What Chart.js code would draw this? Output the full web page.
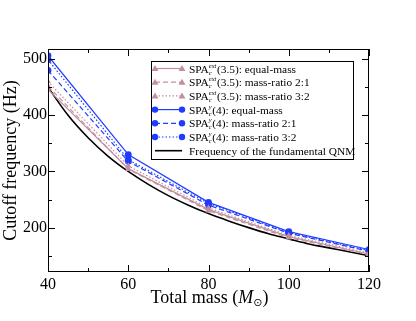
<!DOCTYPE html>
<html>
<head>
<meta charset="utf-8">
<script src="https://cdn.jsdelivr.net/npm/chart.js@4/dist/chart.umd.min.js"></script>
<style>
    html, body { margin: 0; padding: 0; background: #fff; }
    #wrap { width: 416px; height: 321px; }
</style>
</head>
<body>
<div id="wrap"><canvas id="grafico"></canvas></div>
<script>
// Datos
const masas = [40, 60, 80, 100, 120];
const spaExtIgual = [446, 305, 232, 184, 153];
const spaExt21 = [452, 304, 230, 182, 152];
const spaExt32 = [460, 310, 235, 186, 155];
const spaYIgual = [506, 330, 245, 193, 161];
const spaY21 = [480, 318, 240, 190, 158];
const spaY32 = [499, 321, 243, 191, 159];

const masasQNM = [40, 45, 50, 55, 60, 65, 70, 75, 80, 85, 90, 95, 100, 105, 110, 115, 120];
const frecQNM = [450, 400, 360, 327, 300, 277, 257, 240, 225, 212, 200, 189, 180, 171, 164, 157, 150];

const ticksX = [40, 60, 80, 100, 120];
const ticksY = [200, 300, 400, 500];

const ROSA = '#c28f9e';
const AZUL = '#1d3cff';
const SERIF = '"Liberation Serif", "DejaVu Serif", serif';

const puntos = (xs, ys) => xs.map((x, i) => ({ x: x, y: ys[i] }));

function serie(etiqueta, ys, color, estilo, dash) {
    return {
        label: etiqueta,
        data: puntos(masas, ys),
        borderColor: color,
        backgroundColor: color,
        borderWidth: 1.2,
        borderDash: dash,
        pointStyle: estilo,
        pointRadius: estilo === 'triangle' ? 3.5 : 3.4,
        pointBorderWidth: 0,
        tension: 0
    };
}

const datasets = [
    serie('SPA ext (3.5): equal-mass', spaExtIgual, ROSA, 'triangle', []),
    serie('SPA ext (3.5): mass-ratio 2:1', spaExt21, ROSA, 'triangle', [5, 3]),
    serie('SPA ext (3.5): mass-ratio 3:2', spaExt32, ROSA, 'triangle', [1.5, 2]),
    serie('SPA y (4): equal-mass', spaYIgual, AZUL, 'circle', []),
    serie('SPA y (4): mass-ratio 2:1', spaY21, AZUL, 'circle', [5, 3]),
    serie('SPA y (4): mass-ratio 3:2', spaY32, AZUL, 'circle', [1.5, 2]),
    {
        label: 'Frequency of the fundamental QNM',
        data: puntos(masasQNM, frecQNM),
        borderColor: '#000',
        borderWidth: 1.6,
        pointRadius: 0,
        tension: 0.3
    }
];

// Marco, marcas de ejes y título del eje x
const pluginEjes = {
    id: 'ejes',
    afterDraw(chart) {
        const ctx = chart.ctx;
        const a = chart.chartArea;
        const sx = chart.scales.x, sy = chart.scales.y;
        ctx.save();
        ctx.strokeStyle = '#000';
        ctx.lineWidth = 1;
        ctx.strokeRect(a.left + 0.5, a.top + 0.5, a.right - a.left - 1, a.bottom - a.top - 1);
        for (let v = 40; v <= 120; v += 10) {
            const px = Math.round(sx.getPixelForValue(v)) + 0.5;
            const largo = v % 20 === 0 ? 7 : 4;
            ctx.beginPath();
            ctx.moveTo(px, a.bottom); ctx.lineTo(px, a.bottom - largo);
            ctx.moveTo(px, a.top); ctx.lineTo(px, a.top + largo);
            ctx.stroke();
        }
        for (let v = 150; v <= 500; v += 50) {
            const py = Math.round(sy.getPixelForValue(v)) + 0.5;
            const largo = v % 100 === 0 ? 7 : 4;
            ctx.beginPath();
            ctx.moveTo(a.left, py); ctx.lineTo(a.left + largo, py);
            ctx.moveTo(a.right, py); ctx.lineTo(a.right - largo, py);
            ctx.stroke();
        }
        // Título eje x: Total mass (M☉)
        ctx.fillStyle = '#000';
        ctx.textBaseline = 'alphabetic';
        const partes = [
            { t: 'Total mass (', f: '18px ' + SERIF, dy: 0 },
            { t: 'M', f: 'italic 18px ' + SERIF, dy: 0 },
            { t: '\u2299', f: '11px "DejaVu Sans", sans-serif', dy: 3 },
            { t: ')', f: '18px ' + SERIF, dy: 0 }
        ];
        let ancho = 0;
        partes.forEach(p => { ctx.font = p.f; ancho += ctx.measureText(p.t).width; });
        let x = (a.left + a.right) / 2 - ancho / 2 + 1;
        const yb = 303;
        partes.forEach(p => {
            ctx.font = p.f;
            ctx.fillText(p.t, x, yb + p.dy);
            x += ctx.measureText(p.t).width;
        });
        ctx.restore();
    }
};

// Leyenda con recuadro, dibujada a mano por los sub/superíndices
const pluginLeyenda = {
    id: 'leyenda',
    afterDraw(chart) {
        const ctx = chart.ctx;
        const caja = { x: 151, y: 61, w: 202, h: 98 };
        const textos = [
            ['c', 'ext', '(3.5): equal-mass'],
            ['c', 'ext', '(3.5): mass-ratio 2:1'],
            ['c', 'ext', '(3.5): mass-ratio 3:2'],
            ['c', 'y', '(4): equal-mass'],
            ['c', 'y', '(4): mass-ratio 2:1'],
            ['c', 'y', '(4): mass-ratio 3:2']
        ];
        const fuente = '11.4px ' + SERIF;
        ctx.save();
        ctx.fillStyle = '#fff';
        ctx.fillRect(caja.x, caja.y, caja.w, caja.h);
        ctx.strokeStyle = '#000';
        ctx.lineWidth = 1;
        ctx.strokeRect(caja.x + 0.5, caja.y + 0.5, caja.w, caja.h);
        const x0 = 155, x1 = 182, xt = 189;
        chart.data.datasets.forEach((ds, i) => {
            const yc = 68.5 + i * 13.7;
            ctx.strokeStyle = ds.borderColor;
            ctx.lineWidth = ds.borderWidth;
            ctx.setLineDash(ds.borderDash || []);
            ctx.beginPath();
            ctx.moveTo(x0, yc); ctx.lineTo(x1, yc);
            ctx.stroke();
            ctx.setLineDash([]);
            if (ds.pointRadius) {
                ctx.fillStyle = ds.backgroundColor;
                [x0, x1].forEach(px => {
                    ctx.beginPath();
                    if (ds.pointStyle === 'triangle') {
                        ctx.moveTo(px, yc - 3.5);
                        ctx.lineTo(px + 3.5, yc + 2.5);
                        ctx.lineTo(px - 3.5, yc + 2.5);
                        ctx.closePath();
                    } else {
                        ctx.arc(px, yc, 3.2, 0, Math.PI * 2);
                    }
                    ctx.fill();
                });
            }
            ctx.fillStyle = '#000';
            ctx.textBaseline = 'alphabetic';
            const yb = yc + 4;
            if (i < 6) {
                const t = textos[i];
                ctx.font = fuente;
                ctx.fillText('SPA', xt, yb);
                let x = xt + ctx.measureText('SPA').width;
                ctx.font = 'italic 6.5px ' + SERIF;
                ctx.fillText(t[0], x, yb + 2);
                ctx.fillText(t[1], x, yb - 5);
                x += Math.max(ctx.measureText(t[0]).width, ctx.measureText(t[1]).width) + 0.5;
                ctx.font = fuente;
                ctx.fillText(t[2], x, yb);
            } else {
                ctx.font = fuente;
                ctx.fillText(ds.label, xt, yb);
            }
        });
        ctx.restore();
    }
};

new Chart(document.getElementById('grafico'), {
    type: 'line',
    data: { datasets: datasets },
    options: {
        responsive: true,
        maintainAspectRatio: false,
        animation: false,
        layout: { padding: { left: 0, right: 47, top: 49, bottom: 0 } },
        plugins: {
            legend: { display: false },
            tooltip: { enabled: false }
        },
        scales: {
            x: {
                type: 'linear',
                min: 40,
                max: 120,
                grid: { display: false, drawTicks: false },
                border: { display: false },
                afterBuildTicks: scale => { scale.ticks = ticksX.map(v => ({ value: v })); },
                afterFit: scale => { scale.height = 49; },
                ticks: { color: '#000', padding: 3, font: { family: SERIF, size: 16 } }
            },
            y: {
                min: 121,
                max: 518,
                grid: { display: false, drawTicks: false },
                border: { display: false },
                afterBuildTicks: scale => { scale.ticks = ticksY.map(v => ({ value: v })); },
                afterFit: scale => { scale.width = 48; },
                ticks: { color: '#000', padding: 1, font: { family: SERIF, size: 16 } },
                title: {
                    display: true,
                    text: 'Cutoff frequency (Hz)',
                    color: '#000',
                    padding: { top: 0, bottom: 0 },
                    font: { family: SERIF, size: 18 }
                }
            }
        }
    },
    plugins: [pluginEjes, pluginLeyenda]
});
</script>
</body>
</html>
